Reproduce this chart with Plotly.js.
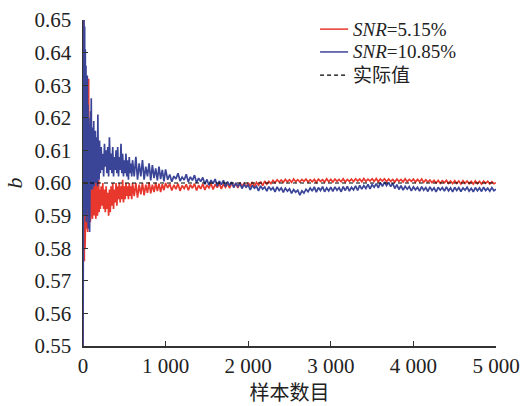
<!DOCTYPE html>
<html>
<head>
<meta charset="utf-8">
<script src="https://cdn.plot.ly/plotly-3.0.1.min.js"></script>
<style>html,body{margin:0;padding:0;background:#fff;}#chart{width:522px;height:406px;}</style>
</head>
<body>
<div id="chart"></div>
<script>
// sample numbers (x) and estimated b values
const sampleX = [
0,4,8,12,16,20,24,28,32,36,40,44,48,52,56,60,64,68,72,76,80,84,88,92,96,100,
105,110,115,120,125,130,135,140,145,150,155,160,165,170,175,180,185,190,195,200,
210,220,230,240,250,260,270,280,290,300,310,320,330,340,350,360,370,380,390,400,
410,420,430,440,450,460,470,480,490,500,510,520,530,540,550,560,570,580,590,600,
620,640,660,680,700,720,740,760,780,800,820,840,860,880,900,920,940,960,980,1000,
1025,1050,1075,1100,1125,1150,1175,1200,1225,1250,
1275,1300,1325,1350,1375,1400,1425,1450,1475,1500,
1525,1550,1575,1600,1625,1650,1675,1700,1725,1750,
1775,1800,1825,1850,1875,1900,1925,1950,1975,2000,
2025,2050,2075,2100,2125,2150,2175,2200,2225,2250,
2275,2300,2325,2350,2375,2400,2425,2450,2475,2500,
2525,2550,2575,2600,2625,2650,2675,2700,2725,2750,
2775,2800,2825,2850,2875,2900,2925,2950,2975,3000,
3025,3050,3075,3100,3125,3150,3175,3200,3225,3250,
3275,3300,3325,3350,3375,3400,3425,3450,3475,3500,
3525,3550,3575,3600,3625,3650,3675,3700,3725,3750,
3775,3800,3825,3850,3875,3900,3925,3950,3975,4000,
4025,4050,4075,4100,4125,4150,4175,4200,4225,4250,
4275,4300,4325,4350,4375,4400,4425,4450,4475,4500,
4525,4550,4575,4600,4625,4650,4675,4700,4725,4750,
4775,4800,4825,4850,4875,4900,4925,4950,4975,5000];

const bSNR515 = [
0.550,0.650,0.650,0.600,0.576,0.622,0.580,0.615,0.589,0.607,0.586,0.611,0.590,0.604,0.585,0.620,0.592,0.632,0.589,0.625,0.593,0.610,0.588,0.606,0.591,0.603,
0.592,0.600,0.589,0.598,0.591,0.601,0.590,0.597,0.592,0.600,0.589,0.598,0.593,0.600,0.590,0.597,0.592,0.601,0.591,0.598,
0.592,0.599,0.593,0.600,0.592,0.598,0.591,0.599,0.592,0.597,0.590,0.598,0.591,0.599,0.593,0.600,0.592,0.598,0.594,0.600,
0.593,0.599,0.595,0.600,0.594,0.599,0.595,0.601,0.594,0.599,0.595,0.600,0.596,0.599,0.595,0.600,0.596,0.599,0.595,0.600,
0.596,0.600,0.5955,0.5995,0.5965,0.600,0.5962,0.5995,0.597,0.6002,0.5968,0.5995,0.5972,0.600,0.5975,0.5998,0.5972,0.5996,0.5978,0.6000,
0.5985,0.5997,0.5977,0.5994,0.5981,0.5998,0.5976,0.5992,0.5983,0.5996,
0.5978,0.5995,0.5984,0.5998,0.5977,0.5993,0.5982,0.5997,0.5979,0.5994,
0.5985,0.5998,0.5980,0.5996,0.5986,0.5999,0.5982,0.5997,0.5987,0.5999,
0.5984,0.6000,0.5989,0.5998,0.5985,0.6001,0.5990,0.5999,0.5987,0.6001,
0.5991,0.6003,0.5989,0.6002,0.5993,0.6004,0.5992,0.6006,0.5996,0.6005,
0.5998,0.6008,0.6001,0.6010,0.6003,0.6009,0.6002,0.6011,0.6004,0.6010,
0.6002,0.6012,0.6004,0.6010,0.6003,0.6011,0.6005,0.6012,0.6003,0.6010,
0.6004,0.6011,0.6002,0.6012,0.6005,0.6010,0.6003,0.6013,0.6004,0.6011,
0.6003,0.6012,0.6005,0.6011,0.6004,0.6013,0.6003,0.6011,0.6005,0.6012,
0.6004,0.6013,0.6006,0.6012,0.6004,0.6014,0.6005,0.6012,0.6006,0.6013,
0.6005,0.6014,0.6004,0.6012,0.6006,0.6013,0.6004,0.6012,0.6005,0.6011,
0.6003,0.6012,0.6005,0.6011,0.6003,0.6013,0.6004,0.6011,0.6005,0.6012,
0.6003,0.6011,0.6004,0.6012,0.6002,0.6010,0.6003,0.6009,0.6001,0.6008,
0.6000,0.6008,0.5999,0.6007,0.6001,0.6008,0.5999,0.6006,0.5998,0.6007,
0.5999,0.6006,0.5997,0.6007,0.5999,0.6006,0.5998,0.6005,0.5997,0.6006,
0.5998,0.6005,0.5997,0.6006,0.5999,0.6005,0.5997,0.6004,0.5998,0.6001];

const bSNR1085 = [
0.550,0.650,0.612,0.650,0.596,0.648,0.590,0.641,0.600,0.636,0.588,0.629,0.597,0.633,0.592,0.624,0.586,0.620,0.594,0.618,0.585,0.612,0.596,0.622,0.598,0.626,
0.600,0.617,0.598,0.613,0.601,0.619,0.599,0.611,0.603,0.616,0.600,0.612,0.602,0.614,0.599,0.621,0.603,0.611,0.601,0.613,
0.603,0.611,0.604,0.609,0.602,0.612,0.605,0.610,0.603,0.611,0.602,0.614,0.604,0.609,0.603,0.611,0.602,0.608,0.604,0.610,
0.603,0.611,0.602,0.608,0.604,0.612,0.603,0.609,0.602,0.607,0.603,0.609,0.602,0.607,0.601,0.608,0.603,0.606,0.602,0.607,
0.602,0.608,0.601,0.606,0.602,0.607,0.601,0.605,0.602,0.606,0.6008,0.6055,0.6015,0.6045,0.6008,0.605,0.6012,0.604,0.6005,0.6042,
0.6010,0.6026,0.6004,0.6021,0.6012,0.6030,0.6006,0.6018,0.6009,0.6027,
0.6003,0.6019,0.6008,0.6024,0.6001,0.6015,0.6004,0.6017,0.5996,0.6011,
0.5993,0.6009,0.5998,0.6012,0.5990,0.6006,0.5995,0.6008,0.5989,0.6004,
0.5992,0.6003,0.5986,0.6000,0.5990,0.5998,0.5983,0.5996,0.5987,0.5994,
0.5979,0.5993,0.5984,0.5990,0.5976,0.5991,0.5981,0.5988,0.5975,0.5989,
0.5979,0.5986,0.5973,0.5988,0.5977,0.5985,0.5971,0.5984,0.5975,0.5982,
0.5968,0.5980,0.5972,0.5978,0.5963,0.5976,0.5969,0.5981,0.5973,0.5985,
0.5975,0.5988,0.5972,0.5986,0.5977,0.5989,0.5973,0.5985,0.5976,0.5987,
0.5974,0.5988,0.5978,0.5986,0.5973,0.5989,0.5977,0.5990,0.5975,0.5987,
0.5979,0.5991,0.5977,0.5993,0.5981,0.5992,0.5983,0.5996,0.5982,0.5995,
0.5987,0.5998,0.5985,0.6001,0.5990,0.6003,0.5992,0.6002,0.5989,0.5999,
0.5983,0.5995,0.5980,0.5992,0.5978,0.5990,0.5981,0.5989,0.5976,0.5988,
0.5979,0.5987,0.5975,0.5989,0.5978,0.5986,0.5974,0.5988,0.5977,0.5985,
0.5973,0.5987,0.5978,0.5986,0.5975,0.5988,0.5976,0.5985,0.5973,0.5987,
0.5977,0.5986,0.5974,0.5985,0.5978,0.5987,0.5975,0.5984,0.5973,0.5986,
0.5976,0.5985,0.5974,0.5987,0.5977,0.5984,0.5975,0.5986,0.5976,0.5981];

const actualX = [0, 5000];
const actualB = [0.6, 0.6];

const seriesNames = ['<i>SNR</i>=5.15%', '<i>SNR</i>=10.85%', '实际值'];
const seriesColors = ['#e8382e', '#3b4597', '#000000'];

const xTickVals = [0, 1000, 2000, 3000, 4000, 5000];
const xTickText = ['0', '1 000', '2 000', '3 000', '4 000', '5 000'];
const yTickVals = [0.55, 0.56, 0.57, 0.58, 0.59, 0.60, 0.61, 0.62, 0.63, 0.64, 0.65];
const yTickText = ['0.55','0.56','0.57','0.58','0.59','0.60','0.61','0.62','0.63','0.64','0.65'];

const serif = '"Liberation Serif", "DejaVu Serif", serif';
const serifCjk = '"Liberation Serif", "Noto Sans CJK SC", serif';
const cjk = '"Noto Sans CJK SC", sans-serif';

const traces = [
  {x: sampleX, y: bSNR515, mode: 'lines', name: seriesNames[0], showlegend: false,
   line: {color: seriesColors[0], width: 1.7}},
  {x: sampleX, y: bSNR1085, mode: 'lines', name: seriesNames[1], showlegend: false,
   line: {color: seriesColors[1], width: 1.7}},
  {x: actualX, y: actualB, mode: 'lines', name: seriesNames[2], showlegend: false,
   line: {color: seriesColors[2], width: 1.2, dash: '4px,3px'}}
];

// hand-built legend (paper coordinates)
const legY = [0.972, 0.902, 0.831];
const shapes = legY.map((yy, i) => ({
  type: 'line', xref: 'paper', yref: 'paper', x0: 0.574, x1: 0.642, y0: yy, y1: yy,
  line: {color: seriesColors[i], width: i === 2 ? 1.2 : 1.5, dash: i === 2 ? '4px,3px' : 'solid'}
}));
const annotations = legY.map((yy, i) => ({
  xref: 'paper', yref: 'paper', x: 0.651, y: yy, xanchor: 'left', yanchor: 'middle',
  text: seriesNames[i], showarrow: false, borderpad: 0,
  font: {family: i === 2 ? serifCjk : serif, size: 19, color: '#222'}
}));

const layout = {
  width: 522, height: 406,
  margin: {l: 83, r: 26, t: 20, b: 60},
  paper_bgcolor: '#ffffff', plot_bgcolor: '#ffffff',
  showlegend: false,
  shapes: shapes,
  annotations: annotations,
  xaxis: {range: [0, 5000], tickvals: xTickVals, ticktext: xTickText,
          ticks: 'inside', ticklen: 5, tickwidth: 1.2, tickcolor: '#333',
          showline: true, linecolor: '#333', linewidth: 1.5, showgrid: false, zeroline: false,
          tickfont: {family: serif, size: 21, color: '#222'},
          title: {text: '样本数目', font: {family: cjk, size: 20, color: '#222'}, standoff: 5}},
  yaxis: {range: [0.55, 0.65], tickvals: yTickVals, ticktext: yTickText,
          ticks: 'inside', ticklen: 5, tickwidth: 1.2, tickcolor: '#333',
          showline: true, linecolor: '#333', linewidth: 1.5, showgrid: false, zeroline: false,
          ticklabelstandoff: 6,
          tickfont: {family: serif, size: 21, color: '#222'},
          title: {text: '<i>b</i>', font: {family: serif, size: 22, color: '#222'}, standoff: 6}}
};

Plotly.newPlot('chart', traces, layout, {displayModeBar: false, staticPlot: true});
</script>
</body>
</html>
